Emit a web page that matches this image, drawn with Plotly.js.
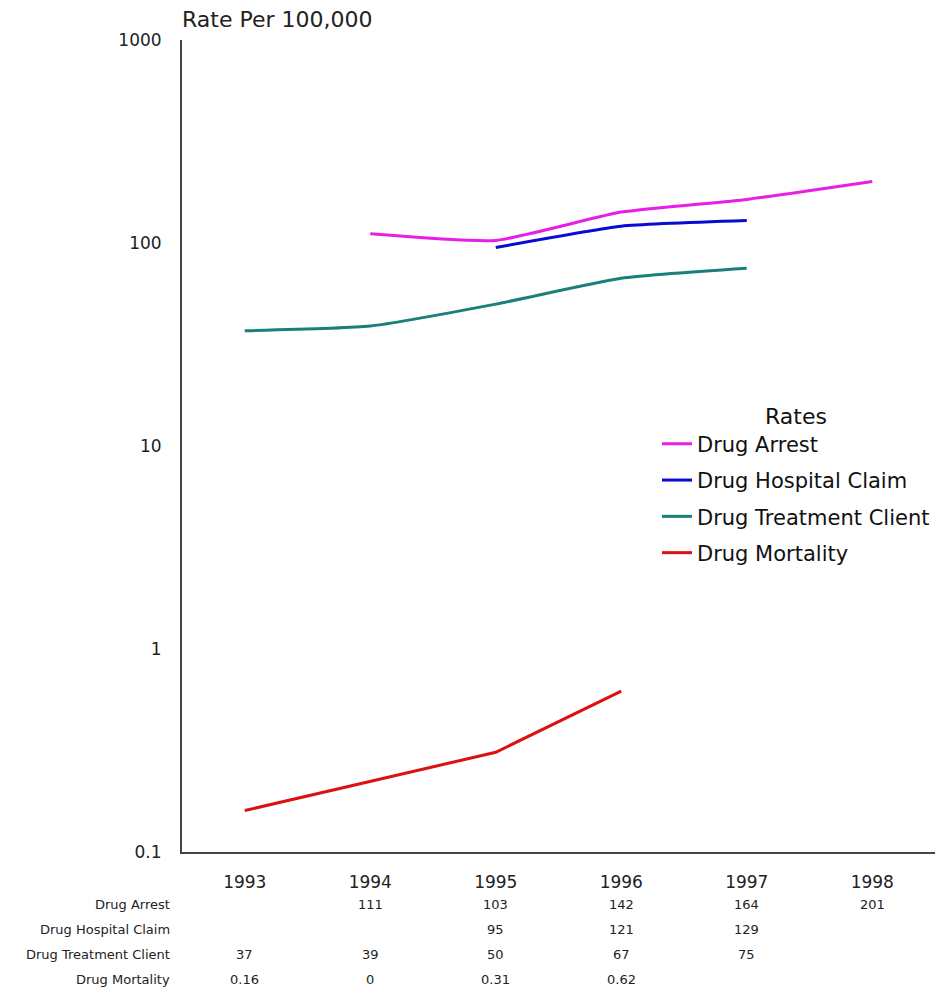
<!DOCTYPE html>
<html>
<head>
<meta charset="utf-8">
<script src="https://cdn.plot.ly/plotly-3.0.1.min.js"></script>
<style>html,body{margin:0;padding:0;background:#fff;}#chart{width:944px;height:995px;}</style>
</head>
<body>
<div id="chart"></div>
<script>
var years = ['1993', '1994', '1995', '1996', '1997', '1998'];
var seriesNames = ['Drug Arrest', 'Drug Hospital Claim', 'Drug Treatment Client', 'Drug Mortality'];
var tableLabels = ['Drug Arrest', 'Drug Hospital Claim', 'Drug Treatment Client', 'Drug Mortality'];
var drugArrest = [null, 111, 103, 142, 164, 201];
var drugHospitalClaim = [null, null, 95, 121, 129, null];
var drugTreatmentClient = [37, 39, 50, 67, 75, null];
var drugMortality = [0.16, 0, 0.31, 0.62, null, null];
var yTickVals = [0.1, 1, 10, 100, 1000];
var yTickText = ['0.1', '1', '10', '100', '1000'];

var allSeries = [drugArrest, drugHospitalClaim, drugTreatmentClient, drugMortality];
var colors = ['#e81ee8', '#0a0ad2', '#1a7f7a', '#dc1010'];
var shapes = ['spline', 'spline', 'spline', 'linear'];

var W = 944, H = 995, L = 182, R = 9, T = 40, B = 143;
var plotW = W - L - R, plotH = H - T - B;
var FONT = 'DejaVu Sans, Verdana, sans-serif';

var traces = allSeries.map(function (vals, i) {
  // a log axis cannot show values <= 0, so those points are left as gaps
  var plotVals = vals.map(function (v) { return (v !== null && v > 0) ? v : null; });
  return {
    x: years, y: plotVals, name: seriesNames[i], type: 'scatter', mode: 'lines',
    line: {color: colors[i], width: 3, shape: shapes[i], smoothing: 0.5},
    connectgaps: true, legendgroup: 'g' + i, hoverinfo: 'x+y'
  };
});

var annotations = [];
var rowY = [904, 929, 954, 979];
var tableFont = {family: FONT, size: 13, color: '#222'};
tableLabels.forEach(function (lab, r) {
  var yp = (H - B - rowY[r]) / plotH;
  annotations.push({
    text: lab, xref: 'paper', yref: 'paper', x: -10 / plotW, y: yp,
    xanchor: 'right', yanchor: 'middle', showarrow: false, font: tableFont
  });
  allSeries[r].forEach(function (v, c) {
    if (v === null) return;
    annotations.push({
      text: String(v), xref: 'x', yref: 'paper', x: c, y: yp,
      xanchor: 'center', yanchor: 'middle', showarrow: false, font: tableFont
    });
  });
});

var layout = {
  width: W, height: H,
  margin: {l: L, r: R, t: T, b: B},
  paper_bgcolor: '#fff', plot_bgcolor: '#fff',
  font: {family: FONT, color: '#222'},
  title: {
    text: 'Rate Per 100,000', xref: 'paper', x: 0, xanchor: 'left',
    yref: 'container', y: 1 - 19 / H, yanchor: 'middle',
    font: {size: 22, color: '#222', family: FONT}
  },
  xaxis: {
    type: 'category', range: [-0.5, 5.5], showgrid: false, zeroline: false,
    showline: true, linecolor: '#444', linewidth: 2, ticks: '',
    tickfont: {size: 17, color: '#222'}, ticklabelstandoff: 14, fixedrange: true
  },
  yaxis: {
    type: 'log', range: [-1, 3], showgrid: false, zeroline: false,
    showline: true, linecolor: '#444', linewidth: 2, ticks: '',
    tickvals: yTickVals, ticktext: yTickText,
    tickfont: {size: 17, color: '#222'}, ticklabelstandoff: 15, fixedrange: true
  },
  showlegend: true,
  legend: {
    x: (657 - L) / plotW, xanchor: 'left', y: (H - B - 395) / plotH, yanchor: 'top',
    bgcolor: 'rgba(0,0,0,0)', borderwidth: 0,
    font: {size: 21, color: '#111'},
    title: {text: 'Rates', side: 'top center', font: {size: 22, color: '#111'}},
    tracegroupgap: 6, traceorder: 'grouped'
  },
  annotations: annotations
};

Plotly.newPlot('chart', traces, layout, {displayModeBar: false, staticPlot: true});
</script>
</body>
</html>
